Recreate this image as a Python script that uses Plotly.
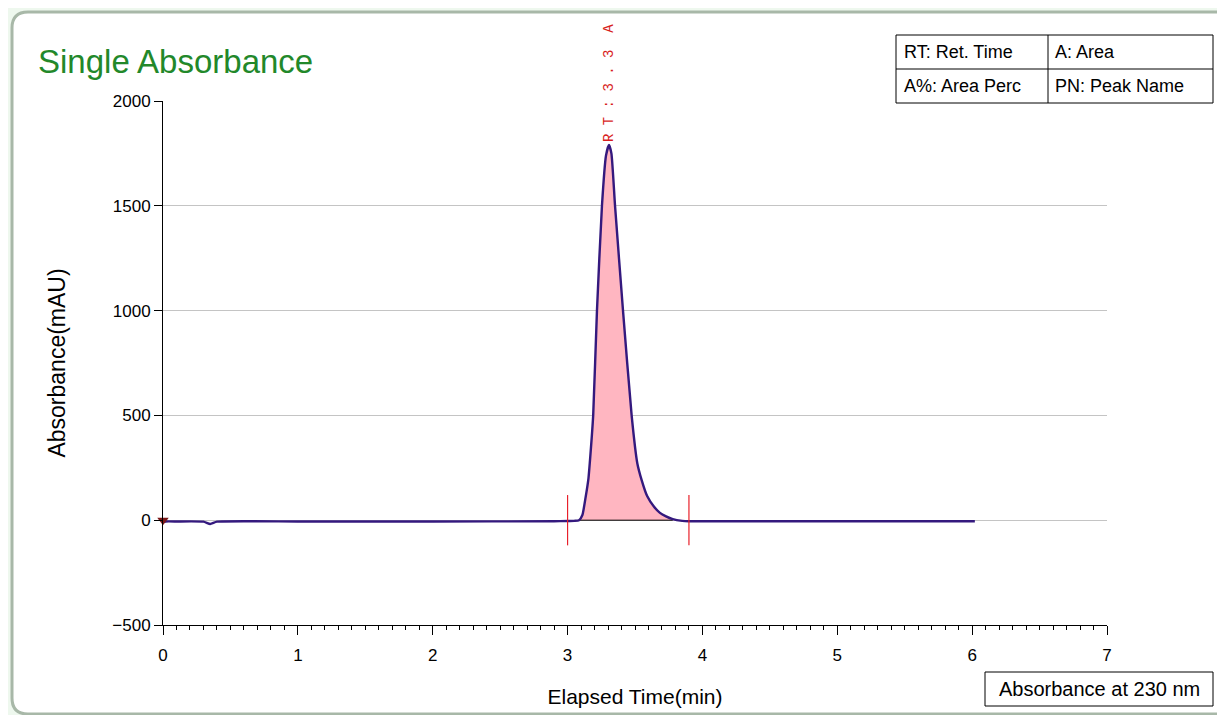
import plotly.graph_objects as go

# ---------------- data ----------------
time_min = [0.00, 0.02, 0.10, 0.30, 0.35, 0.40, 1.00, 2.00, 2.90, 3.00, 3.05,
            3.085, 3.11, 3.134, 3.155, 3.168, 3.19, 3.218, 3.255, 3.285, 3.307,
            3.325, 3.352, 3.411, 3.475, 3.517, 3.55, 3.59, 3.64, 3.685, 3.73,
            3.78, 3.85, 3.90, 4.00, 5.00, 6.02]
absorbance = [-8, -6, -6, -7, -18, -7, -6, -6, -5, -4, -3,
              0, 25, 110, 200, 300, 500, 1000, 1500, 1740, 1790,
              1750, 1500, 1000, 500, 272, 190, 115, 65, 35, 18,
              5, -3, -5, -5, -5, -5]
peak_bounds = [3.0, 3.9]
peak_label = "R T : 3 . 3  A"
inject_time = [0.0]
inject_value = [0]

title_text = "Single Absorbance"
x_title = "Elapsed Time(min)"
y_title = "Absorbance(mAU)"
legend_cells = [["RT: Ret. Time", "A: Area"], ["A%: Area Perc", "PN: Peak Name"]]
channel_text = "Absorbance at 230 nm"

# ---------------- layout helpers (screen pixel -> paper) ----------------
OFF = 8                      # page body margin offset
W, H = 1225 - OFF, 715 - OFF
L, R, T, B = 163 - OFF, 1107 - OFF, 101 - OFF, 625 - OFF


def px(x):
    return (x - OFF - L) / (R - L)


def py(y):
    return (B - (y - OFF)) / (B - T)


fig = go.Figure()

# pink peak area
pk_t = [t for t in time_min if peak_bounds[0] <= t <= peak_bounds[1]]
pk_v = [max(v, 0) for t, v in zip(time_min, absorbance) if peak_bounds[0] <= t <= peak_bounds[1]]
fig.add_trace(go.Scatter(x=pk_t, y=pk_v, mode="lines", fill="tozeroy",
                         fillcolor="#ffb6c1",
                         line=dict(width=0, color="#ffb6c1", shape="spline", smoothing=0.5),
                         hoverinfo="skip", showlegend=False))
# integration baseline
fig.add_trace(go.Scatter(x=[pk_t[2], pk_t[-3]], y=[0, 0], mode="lines",
                         line=dict(color="black", width=1), showlegend=False, hoverinfo="skip"))
# chromatogram
fig.add_trace(go.Scatter(x=time_min, y=absorbance, mode="lines",
                         line=dict(color="#34197e", width=2.4, shape="spline", smoothing=0.5),
                         showlegend=False))
# peak start / end markers
for b in peak_bounds:
    fig.add_trace(go.Scatter(x=[b, b], y=[-120, 120], mode="lines",
                             line=dict(color="#e8202a", width=1.2),
                             showlegend=False, hoverinfo="skip"))
# injection marker
fig.add_trace(go.Scatter(x=inject_time, y=inject_value, mode="markers",
                         marker=dict(symbol="triangle-down", size=10, color="#7a1818"),
                         showlegend=False, cliponaxis=False))

apex_i = max(range(len(absorbance)), key=lambda i: absorbance[i])
annotations = [
    dict(x=time_min[apex_i], y=absorbance[apex_i], xref="x", yref="y",
         text=peak_label, textangle=-90, showarrow=False,
         xanchor="center", yanchor="bottom", yshift=1,
         font=dict(family="Liberation Mono", size=14, color="#d81e1e")),
    dict(x=px(36), y=py(61), xref="paper", yref="paper", text=title_text,
         showarrow=False, xanchor="left", yanchor="middle",
         font=dict(family="Liberation Sans", size=33, color="#22882a")),
]

shapes = [
    # white rounded panel with grey border
    dict(type="path", xref="paper", yref="paper", layer="below",
         path=(f"M {px(28)},{py(12)} L {px(1222)},{py(12)} L {px(1222)},{py(714)} "
               f"L {px(28)},{py(714)} Q {px(12)},{py(714)} {px(12)},{py(698)} "
               f"L {px(12)},{py(28)} Q {px(12)},{py(12)} {px(28)},{py(12)} Z"),
         fillcolor="white", line=dict(color="#a8b8a8", width=3)),
]

# legend table
tx0, tx1, txm = 896, 1213, 1048
ty0, ty1, tym = 35, 103, 69
shapes.append(dict(type="rect", xref="paper", yref="paper",
                   x0=px(tx0), x1=px(tx1), y0=py(ty1), y1=py(ty0),
                   fillcolor="white", line=dict(color="black", width=1)))
shapes.append(dict(type="line", xref="paper", yref="paper",
                   x0=px(tx0), x1=px(tx1), y0=py(tym), y1=py(tym),
                   line=dict(color="black", width=1)))
shapes.append(dict(type="line", xref="paper", yref="paper",
                   x0=px(txm), x1=px(txm), y0=py(ty0), y1=py(ty1),
                   line=dict(color="black", width=1)))
col_x = [tx0 + 6, txm + 5]
row_y = [(ty0 + tym) / 2, (tym + ty1) / 2]
for r, row in enumerate(legend_cells):
    for c, txt in enumerate(row):
        annotations.append(dict(x=px(col_x[c]), y=py(row_y[r]), xref="paper", yref="paper",
                                text=txt, showarrow=False, xanchor="left", yanchor="middle",
                                font=dict(family="Liberation Sans", size=18, color="black")))

# channel box
shapes.append(dict(type="rect", xref="paper", yref="paper",
                   x0=px(985), x1=px(1213), y0=py(706), y1=py(672),
                   fillcolor="white", line=dict(color="black", width=1)))
annotations.append(dict(x=px(1099), y=py(689), xref="paper", yref="paper",
                        text=channel_text, showarrow=False, xanchor="center", yanchor="middle",
                        font=dict(family="Liberation Sans", size=20, color="black")))

fig.update_layout(
    width=W, height=H,
    margin=dict(l=L, r=W - R, t=T, b=H - B, pad=0),
    paper_bgcolor="#eef8ee", plot_bgcolor="rgba(0,0,0,0)",
    font=dict(family="Liberation Sans", color="black"),
    shapes=shapes, annotations=annotations,
    xaxis=dict(range=[0, 7], autorange=False, dtick=1, tick0=0,
               showgrid=False, zeroline=False, showline=True, linecolor="black", linewidth=1,
               ticks="outside", ticklen=9, tickcolor="black", tickwidth=1,
               minor=dict(dtick=0.1, ticks="outside", ticklen=4, tickcolor="black", showgrid=False),
               tickfont=dict(size=17), ticklabelstandoff=6,
               title=dict(text=x_title, font=dict(size=21), standoff=24)),
    yaxis=dict(range=[-500, 2000], autorange=False, dtick=500, tick0=0,
               showgrid=True, gridcolor="#c4c4c4", gridwidth=1,
               zeroline=False, showline=True, linecolor="black", linewidth=1,
               ticks="outside", ticklen=8, tickcolor="black", tickwidth=1,
               tickfont=dict(size=17),
               title=dict(text=y_title, font=dict(size=23), standoff=40)),
)

fig.write_html("out.html")
